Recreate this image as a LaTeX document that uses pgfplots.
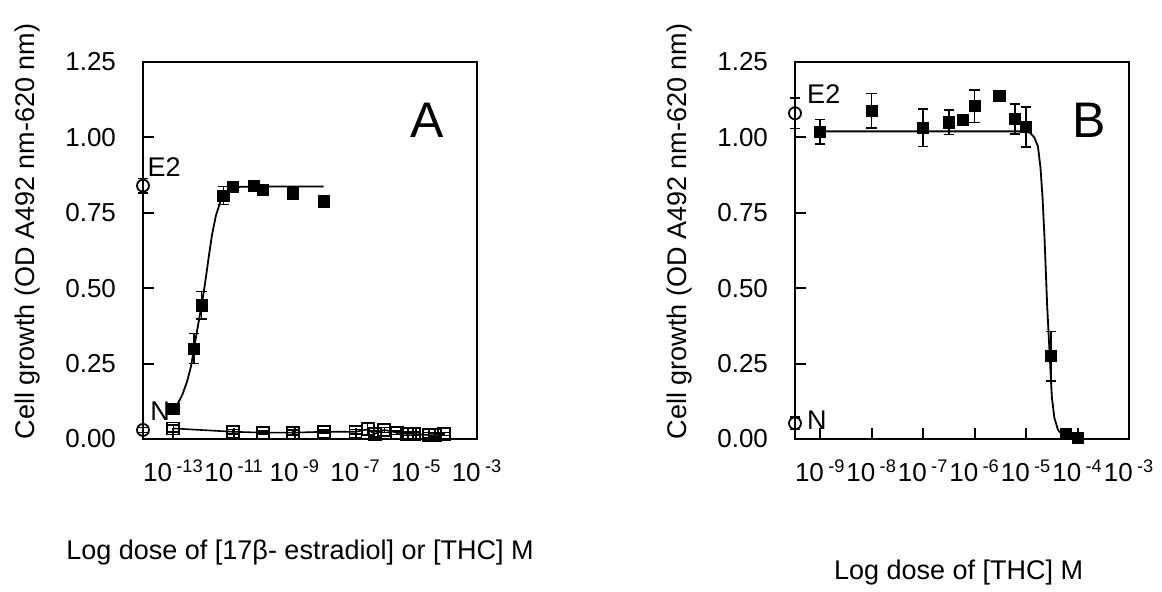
\documentclass[border=0pt]{standalone}
\usepackage{fontspec}
\setmainfont{Liberation Sans}
\usepackage{pgfplots}
\usepackage{pgfplotstable}
\pgfplotsset{compat=1.18}

% Panel A data (x = log10 dose)
\pgfplotstableread{
x y e
-13.00 0.100 0.010
-12.33 0.300 0.050
-12.07 0.443 0.046
-11.35 0.807 0.030
-11.04 0.837 0.010
-10.36 0.838 0.008
-10.05 0.827 0.008
-9.07 0.814 0.008
-8.05 0.788 0.008
}\Afilled
\pgfplotstableread{
x y
-13.00 0.100
-12.85 0.118
-12.70 0.148
-12.55 0.190
-12.42 0.240
-12.32 0.300
-12.20 0.370
-12.07 0.443
-11.95 0.520
-11.84 0.600
-11.73 0.675
-11.60 0.740
-11.46 0.785
-11.30 0.815
-11.10 0.830
-10.80 0.836
-10.30 0.837
-8.05 0.837
}\Acurve
\pgfplotstableread{
x y e
-13.00 0.035 0.012
-11.04 0.024 0.008
-10.05 0.021 0.005
-9.05 0.021 0.008
-8.04 0.024 0.005
-7.00 0.024 0.008
-6.60 0.032 0.020
-6.37 0.017 0.010
-6.05 0.030 0.008
-5.63 0.021 0.006
-5.30 0.017 0.006
-5.08 0.017 0.006
-4.58 0.013 0.008
-4.39 0.013 0.006
-4.09 0.017 0.005
}\Aopen
\pgfplotstableread{
x y e
-14.00 0.840 0.024
-14.00 0.030 0.008
}\Acontrols

% Panel B data
\pgfplotstableread{
x y e
-9.00 1.019 0.040
-8.00 1.088 0.057
-7.00 1.032 0.062
-6.50 1.050 0.040
-6.22 1.058 0.010
-6.00 1.104 0.054
-5.52 1.137 0.010
-5.22 1.061 0.050
-5.00 1.035 0.066
-4.52 0.275 0.082
-4.22 0.016 0.010
-3.99 0.003 0.012
}\Bfilled
\pgfplotstableread{
x y
-9.00 1.020
-5.05 1.020
-4.92 1.015
-4.84 1.000
-4.77 0.970
-4.72 0.900
-4.68 0.800
-4.64 0.660
-4.59 0.440
-4.54 0.275
-4.50 0.140
-4.45 0.070
-4.38 0.030
-4.30 0.015
-4.15 0.006
-4.00 0.002
}\Bcurve
\pgfplotstableread{
x y e
-9.49 1.080 0.050
-9.49 0.052 0.020
}\Bcontrols

\pgfplotsset{
  panel/.style={
    scale only axis, width=167pt, height=188.5pt,
    anchor=south west,
    ymin=0, ymax=1.25,
    ytick={0,0.25,0.5,0.75,1,1.25},
    yticklabels={0.00,0.25,0.50,0.75,1.00,1.25},
    tick align=inside, xtick pos=left, ytick pos=left,
    major tick length=5.5pt,
    axis line style={line width=1pt},
    every tick/.style={black, line width=1pt},
    yticklabel style={font=\fontsize{13}{15}\selectfont, xshift=-10pt},
    xticklabel style={font=\fontsize{13}{15}\selectfont, yshift=-7pt, inner xsep=0pt},
    ylabel={Cell growth (OD A492 nm-620 nm)},
    ylabel style={font=\fontsize{13.5}{15}\selectfont, at={(axis description cs:-0.347,0.55)}, anchor=center},
    clip=false,
  },
  ebars/.style={
    error bars/.cd, y dir=both, y explicit,
    error bar style={line width=0.8pt, black},
    error mark options={rotate=90, mark size=2.6pt, line width=0.8pt, black},
  },
}
\newcommand{\tl}[1]{10\,\textsuperscript{#1}}

\begin{document}
\begin{tikzpicture}
\useasboundingbox (-71.5pt,-76.5pt) rectangle (509.5pt,219.5pt);

% ---------------- Panel A ----------------
\begin{axis}[panel, at={(0pt,0pt)},
  xmin=-14, xmax=-3,
  xtick={-13,-11,-9,-7,-5,-3},
  xticklabels={\tl{-13},\tl{-11},\tl{-9},\tl{-7},\tl{-5},\tl{-3}},
  xlabel={Log dose of [17β- estradiol] or [THC] M},
  xlabel style={font=\fontsize{13.5}{15}\selectfont, at={(axis description cs:0.47,-0.30)}, anchor=center},
]
\addplot[black, line width=0.9pt] table[x=x,y=y] {\Acurve};
\addplot[black, line width=0.8pt, mark=square, mark size=3pt, mark options={line width=0.9pt}, ebars]
  table[x=x,y=y,y error=e] {\Aopen};
\addplot[black, only marks, mark=square*, mark size=2.8pt, ebars]
  table[x=x,y=y,y error=e] {\Afilled};
\addplot[black, only marks, mark=o, mark size=3pt, mark options={line width=0.9pt}, ebars]
  table[x=x,y=y,y error=e] {\Acontrols};
\node[anchor=west, font=\fontsize{13.5}{15}\selectfont, inner sep=0pt] at (axis cs:-13.86,0.90) {E2};
\node[anchor=west, font=\fontsize{13.5}{15}\selectfont, inner sep=0pt] at (axis cs:-13.77,0.091) {N};
\node[font=\fontsize{25}{28}\selectfont] at (axis cs:-4.65,1.058) {A};
\end{axis}

% ---------------- Panel B ----------------
\begin{axis}[panel, at={(326pt,0pt)},
  xmin=-9.49, xmax=-3,
  xtick={-9,-8,-7,-6,-5,-4,-3},
  xticklabels={\tl{-9},\tl{-8},\tl{-7},\tl{-6},\tl{-5},\tl{-4},\tl{-3}},
  xlabel={Log dose of [THC] M},
  xlabel style={font=\fontsize{13.5}{15}\selectfont, at={(axis description cs:0.49,-0.353)}, anchor=center},
]
\addplot[black, line width=0.9pt] table[x=x,y=y] {\Bcurve};
\addplot[black, only marks, mark=square*, mark size=2.8pt, ebars]
  table[x=x,y=y,y error=e] {\Bfilled};
\addplot[black, only marks, mark=o, mark size=3pt, mark options={line width=0.9pt}, ebars]
  table[x=x,y=y,y error=e] {\Bcontrols};
\node[anchor=west, font=\fontsize{13.5}{15}\selectfont, inner sep=0pt] at (axis cs:-9.26,1.142) {E2};
\node[anchor=west, font=\fontsize{13.5}{15}\selectfont, inner sep=0pt] at (axis cs:-9.26,0.063) {N};
\node[font=\fontsize{25}{28}\selectfont] at (axis cs:-3.77,1.058) {B};
\end{axis}
\end{tikzpicture}
\end{document}
